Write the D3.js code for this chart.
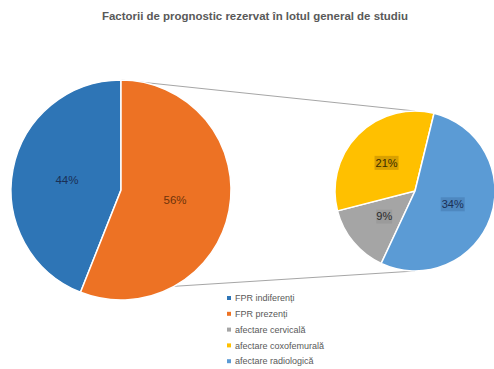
<!DOCTYPE html>
<html>
<head>
<meta charset="utf-8">
<script src="https://cdn.jsdelivr.net/npm/d3@7/dist/d3.min.js"></script>
<style>
  html, body { margin: 0; padding: 0; background: #fff; }
  svg { display: block; font-family: "Liberation Sans", Arial, sans-serif; }
</style>
</head>
<body>
<svg id="chart" width="494" height="369"></svg>
<script>
// Main pie: reserved-prognosis factors
const mainLabels = ["FPR indiferenți", "FPR prezenți"];
const mainValues = [44, 56];
const mainColors = ["#2e75b6", "#ed7224"];
const mainTextColors = ["#1a2f55", "#6e320a"];

// Secondary pie: breakdown of "FPR prezenți"
const subLabels = ["afectare cervicală", "afectare coxofemurală", "afectare radiologică"];
const subValues = [9, 21, 34];
const subColors = ["#a5a5a5", "#ffc000", "#5b9bd5"];
const subTextColors = ["#2a2a2a", "#3a2c00", "#1a2f55"];
const subBoxColors = ["rgba(0,0,0,0.06)", "rgba(120,80,0,0.28)", "rgba(20,50,100,0.18)"];

const legendLabels = mainLabels.concat(subLabels);
const legendColors = mainColors.concat(subColors);

const title = "Factorii de prognostic rezervat în lotul general de studiu";

const svg = d3.select("#chart");
const deg = Math.PI / 180;

// Title
svg.append("text")
  .attr("x", 255).attr("y", 20)
  .attr("text-anchor", "middle")
  .attr("font-size", 10)
  .attr("font-weight", "bold")
  .attr("fill", "#595959")
  .attr("textLength", 306).attr("lengthAdjust", "spacingAndGlyphs")
  .text(title);

// Geometry
const main = { cx: 121, cy: 190, r: 110 };
const sub = { cx: 415, cy: 191, r: 80 };

// Main pie: first slice ends at 12 o'clock
const mainTotal = d3.sum(mainValues);
const mainStart = -2 * Math.PI * mainValues[0] / mainTotal;
const mainPie = d3.pie().sort(null)
  .startAngle(mainStart)
  .endAngle(mainStart + 2 * Math.PI);
const mainArcs = mainPie(mainValues);

// Secondary pie rotation
const subPie = d3.pie().sort(null)
  .startAngle(205 * deg)
  .endAngle(205 * deg + 2 * Math.PI);
const subArcs = subPie(subValues);

// Connector lines between the two pies
const mainSplitBottom = mainArcs[1].endAngle;
const lines = [
  [[main.cx, main.cy - main.r], [sub.cx, sub.cy - sub.r]],
  [[main.cx + main.r * Math.sin(mainSplitBottom), main.cy - main.r * Math.cos(mainSplitBottom)], [sub.cx, sub.cy + sub.r]]
];
svg.append("g").selectAll("line").data(lines).join("line")
  .attr("x1", d => d[0][0]).attr("y1", d => d[0][1])
  .attr("x2", d => d[1][0]).attr("y2", d => d[1][1])
  .attr("stroke", "#a6a6a6").attr("stroke-width", 1);

const mainArc = d3.arc().innerRadius(0).outerRadius(main.r);
const subArc = d3.arc().innerRadius(0).outerRadius(sub.r);

const gMain = svg.append("g").attr("transform", `translate(${main.cx},${main.cy})`);
gMain.selectAll("path").data(mainArcs).join("path")
  .attr("d", mainArc)
  .attr("fill", (d, i) => mainColors[i])
  .attr("stroke", "#fff").attr("stroke-width", 1.5);
gMain.selectAll("text").data(mainArcs).join("text")
  .attr("transform", d => `translate(${mainArc.centroid(d)})`)
  .attr("text-anchor", "middle").attr("dy", "0.35em")
  .attr("font-size", 11.5)
  .attr("fill", (d, i) => mainTextColors[i])
  .text(d => d.data + "%");

const gSub = svg.append("g").attr("transform", `translate(${sub.cx},${sub.cy})`);
gSub.selectAll("path").data(subArcs).join("path")
  .attr("d", subArc)
  .attr("fill", (d, i) => subColors[i])
  .attr("stroke", "#fff").attr("stroke-width", 1.5);
const subLab = gSub.selectAll("g.lab").data(subArcs).join("g").attr("class", "lab")
  .attr("transform", d => `translate(${subArc.centroid(d)})`);
subLab.append("rect")
  .attr("x", d => d.data >= 10 ? -12 : -8).attr("y", -7)
  .attr("width", d => d.data >= 10 ? 24 : 16).attr("height", 14)
  .attr("fill", (d, i) => subBoxColors[i]);
subLab.append("text")
  .attr("text-anchor", "middle").attr("dy", "0.35em")
  .attr("font-size", 11)
  .attr("fill", (d, i) => subTextColors[i])
  .text(d => d.data + "%");

// Legend
const legend = svg.append("g").attr("transform", "translate(227,298)");
const rows = legend.selectAll("g").data(legendLabels).join("g")
  .attr("transform", (d, i) => `translate(0,${i * 15.8})`);
rows.append("rect")
  .attr("x", 0).attr("y", -2).attr("width", 4).attr("height", 4)
  .attr("fill", (d, i) => legendColors[i]);
rows.append("text")
  .attr("x", 8).attr("dy", "0.35em")
  .attr("font-size", 9)
  .attr("fill", "#595959")
  .text(d => d);
</script>
</body>
</html>
